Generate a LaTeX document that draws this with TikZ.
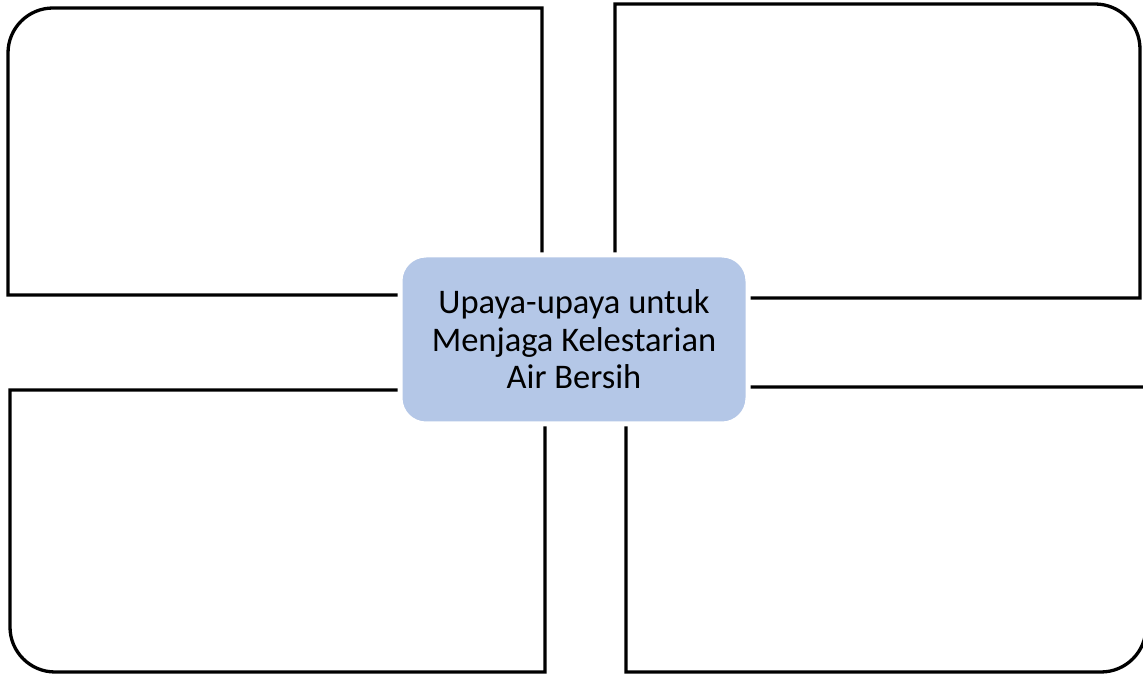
\documentclass[tikz,border=0pt]{standalone}
\usepackage{fontspec}
\setmainfont{Carlito}
\definecolor{centerblue}{HTML}{B4C7E7}
\tikzset{
  panel/.style={draw=black, line width=3.3pt, line join=miter},
  hub/.style={rectangle, rounded corners=26pt, fill=centerblue, draw=white, line width=5pt,
    minimum width=348pt, minimum height=169pt, align=center, inner sep=0pt,
    font=\fontsize{34.5pt}{37.5pt}\selectfont}
}
\begin{document}
\begin{tikzpicture}[x=1pt,y=1pt]
\useasboundingbox (0,0) rectangle (1143,674);
% top-left panel
\draw[panel] (542,379) -- (8,379) -- (8,621) arc[start angle=180,end angle=90,radius=45] -- (542,666) -- cycle;
% top-right panel
\draw[panel] (615,376) -- (615,670) -- (1095,670) arc[start angle=90,end angle=0,radius=45] -- (1140,376) -- cycle;
% bottom-left panel
\draw[panel] (545,284) -- (10,284) -- (10,47) arc[start angle=180,end angle=270,radius=45] -- (545,2) -- cycle;
% bottom-right panel
\draw[panel] (626,287) -- (1146,287) -- (1146,47) arc[start angle=0,end angle=-90,radius=45] -- (626,2) -- cycle;
% centre
\node[hub] (center) at (574,334.5) {Upaya-upaya untuk\\Menjaga Kelestarian\\Air Bersih};
\end{tikzpicture}
\end{document}
